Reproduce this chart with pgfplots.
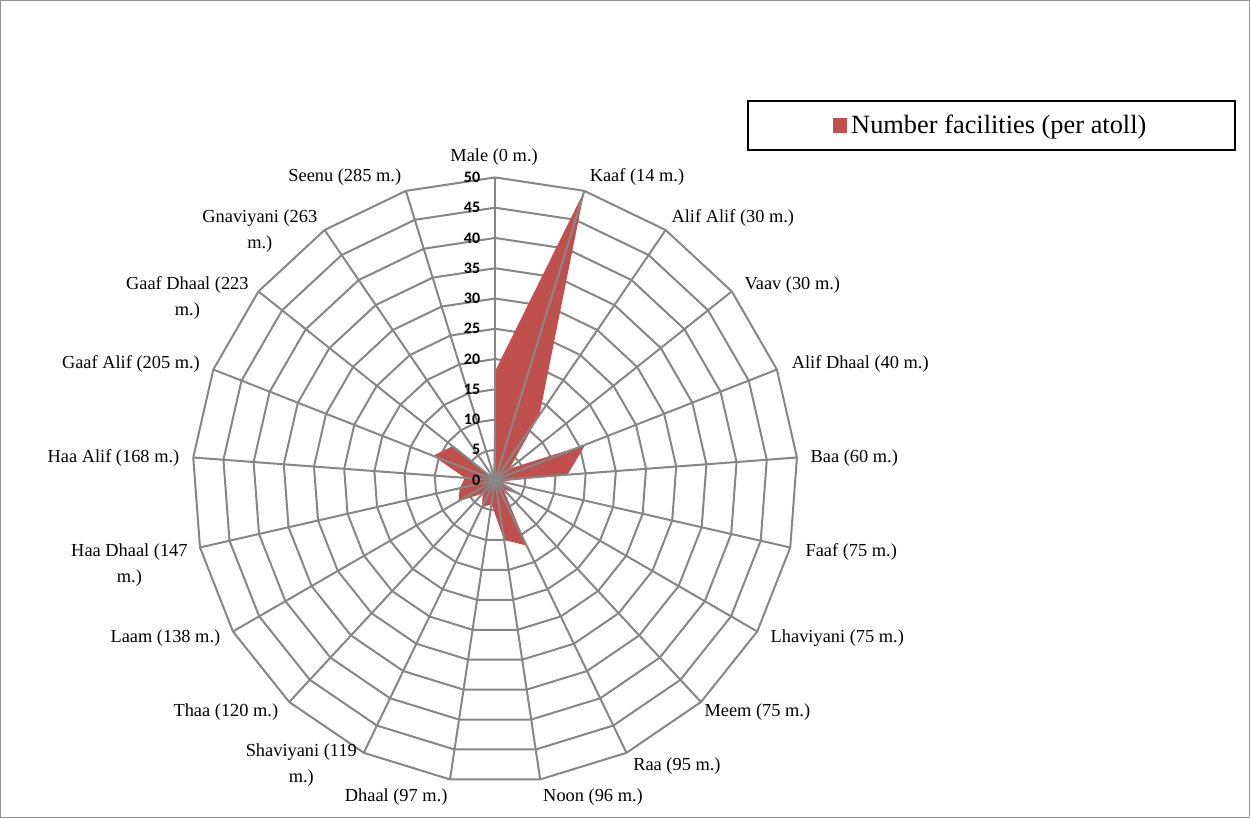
\documentclass[border=0pt]{standalone}
\usepackage{pgfplots}
\usepackage{pgfplotstable}
\pgfplotsset{compat=1.18}
\usepackage{fontspec}
\setmainfont{Liberation Serif}
\newfontfamily\tickfont{Carlito}
\definecolor{barred}{HTML}{C0504D}
\definecolor{gridgray}{HTML}{868686}

\pgfplotstableread{
i v
0 18
1 50
2 13
3 3
4 16
5 12
6 1
7 5
8 2
9 12
10 10
11 4
12 5
13 3
14 7
15 6
16 5
17 11
18 9
19 0
20 1
}\data

\pgfplotstableread{
i d
0 0
1 0
2 0
3 0
4 0
5 0
6 0
7 0
8 0
9 0
10 0
11 0
12 0
13 0
14 0
15 0
16 0
17 0
18 0
19 0
20 0
21 0
}\spk

\begin{document}
\begin{tikzpicture}
\begin{axis}[
  scale only axis,
  width=625pt, height=409pt,
  xmin=-81.68, xmax=124.59, ymin=-55.78, ymax=79.21,
  axis line style={draw=gray!85, line width=0.6pt},
  xtick=\empty, ytick=\empty,
  clip=false,
  legend style={at={(axis cs:82.01,58.58)}, anchor=center, draw=black, line width=1pt,
    font=\fontsize{13.2}{15}\selectfont, inner xsep=42.5pt, inner ysep=4.8pt},
]
% rings
\pgfplotsinvokeforeach{5,10,...,50}{
  \addplot[gridgray, line width=1pt, forget plot, mark=none]
    table[x expr={#1*sin(\thisrow{i}*360/21)}, y expr={#1*cos(\thisrow{i}*360/21)}] {\spk};
}
% data
\addplot[fill=barred, draw=none, mark=none,
  legend image code/.code={\fill[barred] (0pt,-3.6pt) rectangle (7.2pt,3.6pt);}]
  table[x expr={\thisrow{v}*sin(\thisrow{i}*360/21)}, y expr={\thisrow{v}*cos(\thisrow{i}*360/21)}] {\data};
\addlegendentry{Number facilities (per atoll)}
% spokes
\pgfplotsinvokeforeach{0,...,20}{
  \addplot[gridgray, line width=1pt, forget plot, mark=none]
    table[row sep=\\, x expr={\thisrow{r}*sin(#1*360/21)}, y expr={\thisrow{r}*cos(#1*360/21)}] {r d\\0 0\\50 0\\};
}
% tick labels
\pgfplotsinvokeforeach{0,5,...,50}{
  \node[anchor=east, inner sep=0pt, font={\tickfont\bfseries\fontsize{8}{9}\selectfont}] at (axis cs:-2.4,#1) {#1};
}
% category labels
\begin{scope}[every node/.style={font=\fontsize{9.2}{13}\selectfont, align=center, inner sep=0pt}]
\node at (axis cs:-0.17,53.30) {Male (0 m.)};
\node at (axis cs:23.43,50.0) {Kaaf (14 m.)};
\node at (axis cs:39.27,43.23) {Alif Alif (30 m.)};
\node at (axis cs:49.09,32.18) {Vaav (30 m.)};
\node at (axis cs:60.31,19.14) {Alif Dhaal (40 m.)};
\node at (axis cs:59.32,3.63) {Baa (60 m.)};
\node at (axis cs:58.83,-11.88) {Faaf (75 m.)};
\node at (axis cs:56.52,-26.07) {Lhaviyani (75 m.)};
\node at (axis cs:43.32,-38.28) {Meem (75 m.)};
\node at (axis cs:30.03,-47.19) {Raa (95 m.)};
\node at (axis cs:16.17,-52.31) {Noon (96 m.)};
\node at (axis cs:-16.34,-52.31) {Dhaal (97 m.)};
\node at (axis cs:-32.01,-47.03) {Shaviyani (119\\m.)};
\node at (axis cs:-44.47,-38.28) {Thaa (120 m.)};
\node at (axis cs:-54.46,-26.07) {Laam (138 m.)};
\node at (axis cs:-60.40,-14.03) {Haa Dhaal (147\\m.)};
\node at (axis cs:-63.04,3.63) {Haa Alif (168 m.)};
\node at (axis cs:-60.15,19.14) {Gaaf Alif (205 m.)};
\node at (axis cs:-50.83,30.03) {Gaaf Dhaal (223\\m.)};
\node at (axis cs:-38.86,41.09) {Gnaviyani (263\\m.)};
\node at (axis cs:-24.83,50.0) {Seenu (285 m.)};
\end{scope}
\end{axis}
\end{tikzpicture}
\end{document}
